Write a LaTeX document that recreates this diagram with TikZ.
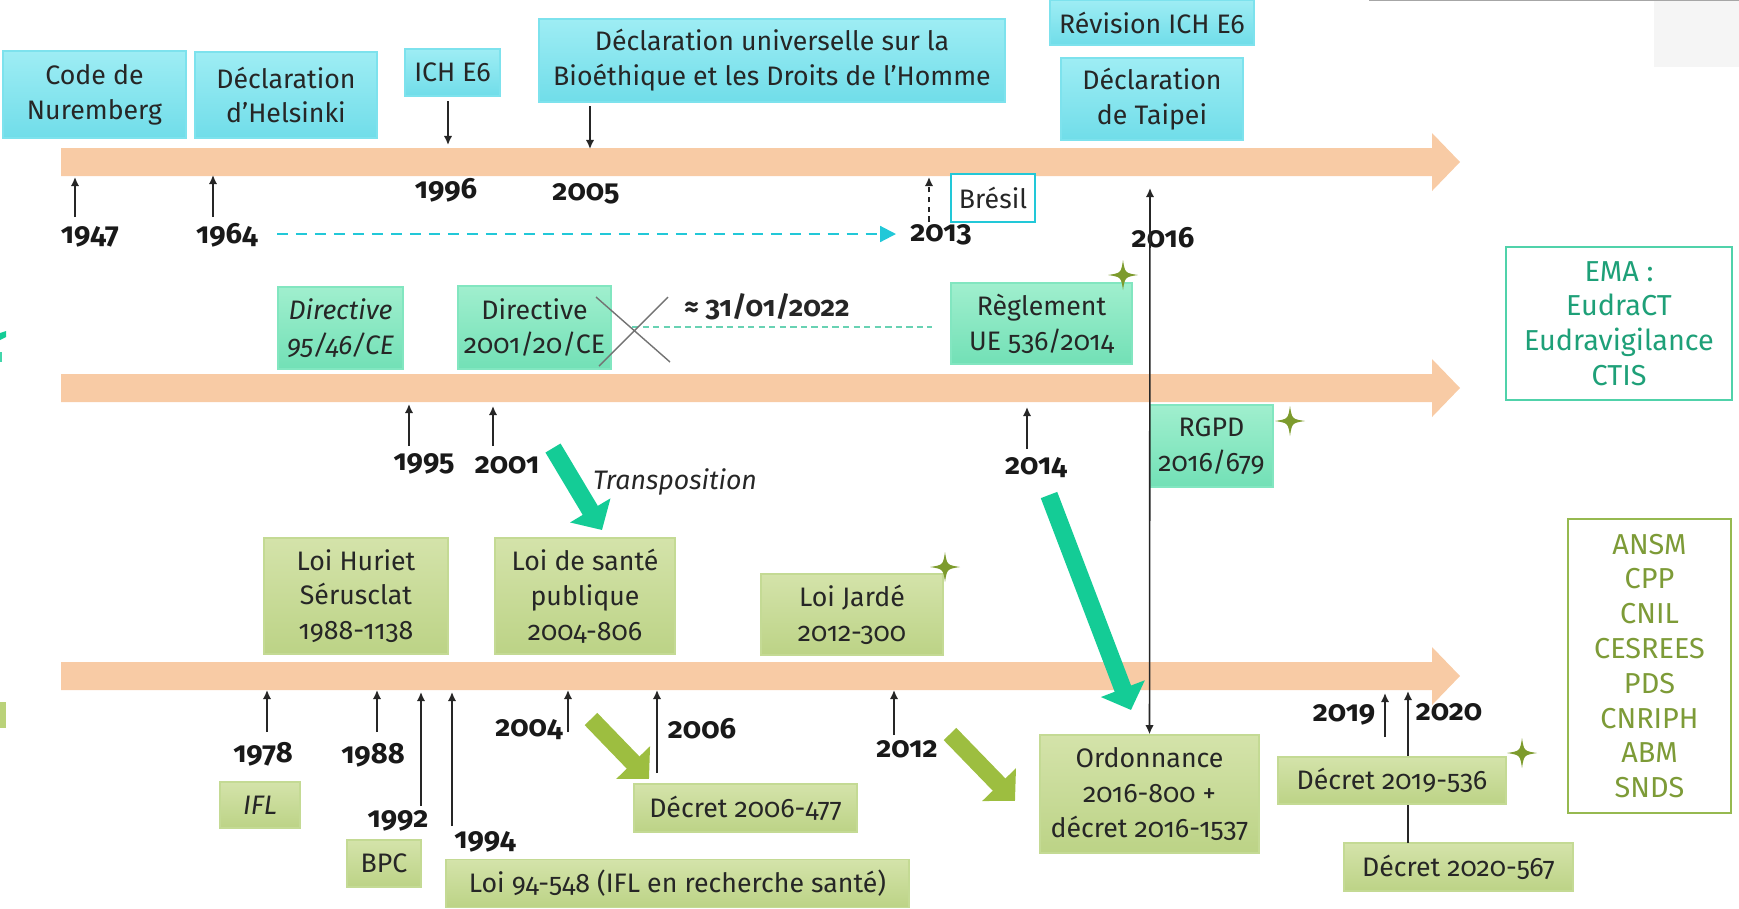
\documentclass[tikz,border=0pt]{standalone}
\usepackage{fontspec}
\setmainfont{Fira Sans}[Numbers=OldStyle]
\usetikzlibrary{arrows.meta}

\definecolor{peach}{RGB}{248,203,165}
\definecolor{cyantop}{RGB}{158,237,244}
\definecolor{cyanbot}{RGB}{112,221,233}
\definecolor{cyanedge}{RGB}{125,226,237}
\definecolor{tealtop}{RGB}{160,239,206}
\definecolor{tealbot}{RGB}{114,224,182}
\definecolor{tealedge}{RGB}{130,230,192}
\definecolor{olivetop}{RGB}{212,227,170}
\definecolor{olivebot}{RGB}{188,211,134}
\definecolor{oliveedge}{RGB}{196,218,148}
\definecolor{tealarrow}{RGB}{20,204,150}
\definecolor{olivearrow}{RGB}{157,190,64}
\definecolor{sparkcol}{RGB}{125,155,45}
\definecolor{dashcyan}{RGB}{34,200,216}
\definecolor{ematext}{RGB}{30,160,120}
\definecolor{emaedge}{RGB}{80,210,170}
\definecolor{ansmtext}{RGB}{125,155,55}
\definecolor{ansmedge}{RGB}{150,185,80}

\tikzstyle{box}=[inner sep=0pt, align=center, text=black!85, font=\fontsize{7.6}{9.9}\selectfont, line width=0.4pt]
\tikzstyle{cyanbox}=[box, draw=cyanedge, top color=cyantop, bottom color=cyanbot]
\tikzstyle{tealbox}=[box, draw=tealedge, top color=tealtop, bottom color=tealbot]
\tikzstyle{olivebox}=[box, draw=oliveedge, top color=olivetop, bottom color=olivebot]
\tikzstyle{listbox}=[box, fill=white, line width=0.6pt, font=\fontsize{8.2}{9.9}\selectfont]
\tikzstyle{year}=[inner sep=0pt, font=\bfseries\fontsize{8.3}{9}\selectfont, text=black!90]
\tikzstyle{tick}=[-{Latex[length=2.6pt,width=2.4pt]}, line width=0.45pt, black!85]
\tikzstyle{bigarrow}=[line width=5pt, -{Triangle[length=6.5pt,width=13pt]}]
\tikzset{sparkle/.pic={\fill[sparkcol] (0,-15) .. controls (2,-2) .. (15,0) .. controls (2,2) .. (0,15) .. controls (-2,2) .. (-15,0) .. controls (-2,-2) .. (0,-15) -- cycle;}}

\begin{document}
\begin{tikzpicture}[x=0.01cm,y=-0.01cm]
\useasboundingbox (0,0) rectangle (1739,908);
\draw[gray!70, line width=0.5pt] (1369,0.3) -- (1739,0.3);
\fill[black!4] (1654,1) rectangle (1739,67);
\fill[tealarrow] (0,333) -- (6,331) -- (6,337) -- (0,340) -- cycle;
\fill[tealarrow!80] (0,352) rectangle (2,362);
\fill[olivearrow!70] (0,702) rectangle (6,728);

\foreach \y in {162,388,676}
  \fill[peach] (61,\y-14) -- (1432,\y-14) -- (1432,\y-29) -- (1460,\y) -- (1432,\y+29) -- (1432,\y+14) -- (61,\y+14) -- cycle;

\node[cyanbox, minimum width=1.83cm, minimum height=0.87cm] (code) at (94.5,94.5) {Code de\\Nuremberg};
\node[cyanbox, minimum width=1.82cm, minimum height=0.86cm] (hels) at (286,95) {Déclaration\\d’Helsinki};
\node[cyanbox, minimum width=0.95cm, minimum height=0.47cm] (ich) at (452.5,72.5) {ICH E6};
\node[cyanbox, minimum width=4.66cm, minimum height=0.83cm] (udec) at (772,60.5) {Déclaration universelle sur la\\Bioéthique et les Droits de l’Homme};
\node[cyanbox, minimum width=2.04cm, minimum height=0.45cm] (rev) at (1152,22.5) {Révision ICH E6};
\node[cyanbox, minimum width=1.82cm, minimum height=0.82cm] (taipei) at (1152,99) {Déclaration\\de Taipei};
\node[box, draw=dashcyan, fill=white, minimum width=0.84cm, minimum height=0.48cm] (bresil) at (993,198) {Brésil};

\node[tealbox, minimum width=1.25cm, minimum height=0.82cm] (dir95) at (340.5,328) {\textit{Directive}\\\textit{95/46/CE}};
\node[tealbox, minimum width=1.53cm, minimum height=0.83cm] (dir01) at (534.5,327.5) {Directive\\2001/20/CE};
\node[tealbox, minimum width=1.81cm, minimum height=0.81cm] (regl) at (1041.5,323.5) {Règlement\\UE 536/2014};
\node[tealbox, minimum width=1.23cm, minimum height=0.82cm] (rgpd) at (1211.5,446) {RGPD\\2016/679};
\node[listbox, draw=emaedge, text=ematext, minimum width=2.26cm, minimum height=1.53cm] (ema) at (1619,323.5) {EMA :\\EudraCT\\Eudravigilance\\CTIS};

\node[olivebox, minimum width=1.84cm, minimum height=1.16cm] (huriet) at (356,596) {Loi Huriet\\Sérusclat\\1988-1138};
\node[olivebox, minimum width=1.80cm, minimum height=1.16cm] (lsp) at (585,596) {Loi de santé\\publique\\2004-806};
\node[olivebox, minimum width=1.82cm, minimum height=0.81cm] (jarde) at (852,614.5) {Loi Jardé\\2012-300};
\node[olivebox, minimum width=0.80cm, minimum height=0.46cm] (ifl) at (260,805) {\textit{IFL}};
\node[olivebox, minimum width=0.74cm, minimum height=0.47cm] (bpc) at (384,863.5) {BPC};
\node[olivebox, minimum width=4.63cm, minimum height=0.48cm] (loi94) at (677.5,883.5) {Loi 94-548 (IFL en recherche santé)};
\node[olivebox, minimum width=2.23cm, minimum height=0.48cm] (d2006) at (745.5,808) {Décret 2006-477};
\node[olivebox, minimum width=2.19cm, minimum height=1.18cm] (ordo) at (1149.5,794) {Ordonnance\\2016-800 +\\décret 2016-1537};
\node[olivebox, minimum width=2.29cm, minimum height=0.48cm] (d2020) at (1458.5,867) {Décret 2020-567};
\coordinate (s2020) at (1408,843);
\coordinate (e2020) at (1408,691);
\draw[tick] (s2020) -- (e2020);
\node[olivebox, minimum width=2.28cm, minimum height=0.47cm] (d2019) at (1392,780.5) {Décret 2019-536};
\node[listbox, draw=ansmedge, text=ansmtext, minimum width=1.63cm, minimum height=2.94cm] (ansm) at (1649.5,666) {ANSM\\CPP\\CNIL\\CESREES\\PDS\\CNRIPH\\ABM\\SNDS};

\foreach \n/\x/\y in {1947/90/237, 1964/227/235, 1996/446/190, 2005/586/194, 2013/941/235, 2016/1163/238,
  1995/424/464, 2001/507/465, 2014/1036/468,
  1978/263/754, 1988/373/755, 1992/398/821, 1994/485/842, 2004/529/730, 2006/702/729, 2012/907/749, 2019/1344/715, 2020/1449/712}
  \node[year] (y\n) at (\x,\y) {\n};

\foreach \n/\x/\a/\b in {1947/75/217/177, 1964/213/217/175, 1996/448/101/145, 2005/590/106/149,
  1995/409/446/404, 2001/493/446/406, 2014/1027/449/407,
  1978/267/732/690, 1988/377/732/690, 1992/421/806/692, 1994/452/826/692, 2004/568/732/690, 2006/657/773/690, 2012/894/735/690, 2019/1385/737/693} {
  \coordinate (s\n) at (\x,\a);
  \coordinate (e\n) at (\x,\b);
  \draw[tick] (s\n) -- (e\n);
}

\coordinate (s2013) at (929,222);
\coordinate (e2013) at (929,177);
\draw[tick, dash pattern=on 1.6pt off 1.2pt] (s2013) -- (e2013);
\coordinate (top2016) at (1150,188);
\draw[{Latex[length=2.6pt,width=2.4pt]}-{Latex[length=2.6pt,width=2.4pt]}, line width=0.45pt, black!85] (top2016) -- (ordo.north);

\coordinate (dash1) at (277,234);
\coordinate (dash2) at (896,234);
\draw[dashcyan, line width=0.6pt, dash pattern=on 3.1pt off 2.3pt, -{Triangle[length=4.5pt,width=4.5pt]}] (dash1) -- (dash2);

\node[box, font=\bfseries\fontsize{8}{9}\selectfont] (fin) at (767,307) {≈ 31/01/2022};
\coordinate (dash3) at (632,327);
\coordinate (dash4) at (932,327);
\draw[tealedge!80!teal, line width=0.35pt, dash pattern=on 1.8pt off 1.2pt] (dash3) -- (dash4);
\coordinate (x1) at (596,297);
\coordinate (x2) at (670,362);
\coordinate (x3) at (668,297);
\coordinate (x4) at (599,366);
\draw[black!55, line width=0.4pt] (x1) -- (x2) (x3) -- (x4);

\node[box, font=\itshape\fontsize{7.6}{9.9}\selectfont] (transp) at (675,482) {Transposition};
\coordinate (t1) at (553,448);
\coordinate (t2) at (602,530);
\draw[bigarrow, tealarrow] (t1) -- (t2);
\coordinate (t3) at (1049,495);
\coordinate (t4) at (1131,710);
\draw[bigarrow, tealarrow] (t3) -- (t4);
\coordinate (o1) at (591,719);
\coordinate (o2) at (649,779);
\draw[bigarrow, olivearrow] (o1) -- (o2);
\coordinate (o3) at (950,734);
\coordinate (o4) at (1015,801);
\draw[bigarrow, olivearrow] (o3) -- (o4);

\pic (sp1) at (1123,275) {sparkle};
\pic (sp2) at (1290,421) {sparkle};
\pic (sp3) at (945,567) {sparkle};
\pic (sp4) at (1522,753) {sparkle};
\end{tikzpicture}
\end{document}
